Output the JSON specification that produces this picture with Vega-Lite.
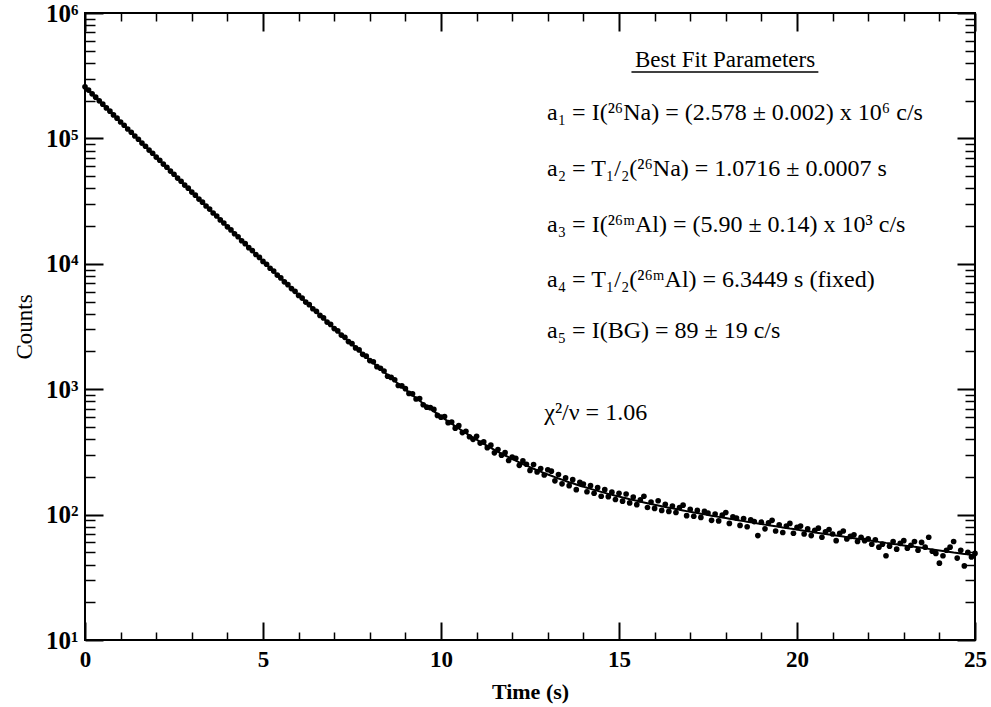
{
  "$schema": "https://vega.github.io/schema/vega-lite/v6.json",
  "width": 890,
  "height": 627,
  "autosize": {"type": "none"},
  "padding": {"left": 85, "top": 13, "right": 16, "bottom": 67},
  "background": "white",
  "config": {
    "view": {"stroke": "black", "strokeWidth": 2},
    "axis": {"grid": false, "domain": false, "tickColor": "black", "labelColor": "black", "titleColor": "black", "labelFont": "Liberation Serif", "titleFont": "Liberation Serif", "labelFlush": false, "labelOverlap": false}
  },
  "datasets": {
    "counts": [
      {"t":0.0,"n":258150,"f":258399},{"t":0.1,"n":242700,"f":242245},{"t":0.2,"n":226640,"f":227099},{"t":0.3,"n":213330,"f":212907},{"t":0.4,"n":199190,"f":199601},
      {"t":0.5,"n":187520,"f":187128},{"t":0.6,"n":175050,"f":175435},{"t":0.7,"n":164880,"f":164475},{"t":0.8,"n":153820,"f":154201},{"t":0.9,"n":144950,"f":144572},
      {"t":1.0,"n":135190,"f":135540},{"t":1.1,"n":127420,"f":127078},{"t":1.2,"n":118810,"f":119144},{"t":1.3,"n":112030,"f":111710},{"t":1.4,"n":104430,"f":104739},
      {"t":1.5,"n":98500,"f":98205},{"t":1.6,"n":91800,"f":92080},{"t":1.7,"n":86620,"f":86339},{"t":1.8,"n":80690,"f":80956},{"t":1.9,"n":76160,"f":75911},
      {"t":2.0,"n":70940,"f":71180},{"t":2.1,"n":66980,"f":66747},{"t":2.2,"n":62370,"f":62590},{"t":2.3,"n":58900,"f":58695},{"t":2.4,"n":54850,"f":55043},
      {"t":2.5,"n":51800,"f":51619},{"t":2.6,"n":48240,"f":48409},{"t":2.7,"n":45560,"f":45400},{"t":2.8,"n":42430,"f":42580},{"t":2.9,"n":40080,"f":39936},
      {"t":3.0,"n":37320,"f":37456},{"t":3.1,"n":35260,"f":35132},{"t":3.2,"n":32830,"f":32954},{"t":3.3,"n":31030,"f":30912},{"t":3.4,"n":28890,"f":28998},
      {"t":3.5,"n":27300,"f":27203},{"t":3.6,"n":25420,"f":25520},{"t":3.7,"n":24040,"f":23943},{"t":3.8,"n":22380,"f":22464},{"t":3.9,"n":21160,"f":21077},
      {"t":4.0,"n":19700,"f":19777},{"t":4.1,"n":18640,"f":18559},{"t":4.2,"n":17350,"f":17416},{"t":4.3,"n":16420,"f":16345},{"t":4.4,"n":15280,"f":15341},
      {"t":4.5,"n":14470,"f":14400},{"t":4.6,"n":13450,"f":13517},{"t":4.7,"n":12750,"f":12689},{"t":4.8,"n":11860,"f":11913},{"t":4.9,"n":11240,"f":11185},
      {"t":5.0,"n":10450,"f":10504},{"t":5.1,"n":9910,"f":9864},{"t":5.2,"n":9220,"f":9264},{"t":5.3,"n":8750,"f":8702},{"t":5.4,"n":8130,"f":8174},
      {"t":5.5,"n":7720,"f":7680},{"t":5.6,"n":7180,"f":7216},{"t":5.7,"n":6820,"f":6781},{"t":5.8,"n":6340,"f":6373},{"t":5.9,"n":6030,"f":5991},
      {"t":6.0,"n":5600,"f":5632},{"t":6.1,"n":5330,"f":5296},{"t":6.2,"n":4950,"f":4980},{"t":6.3,"n":4720,"f":4684},{"t":6.4,"n":4380,"f":4407},
      {"t":6.5,"n":4180,"f":4146},{"t":6.6,"n":3875,"f":3902},{"t":6.7,"n":3700,"f":3673},{"t":6.8,"n":3430,"f":3459},{"t":6.9,"n":3285,"f":3257},
      {"t":7.0,"n":3042,"f":3068},{"t":7.1,"n":2915,"f":2890},{"t":7.2,"n":2700,"f":2724},{"t":7.3,"n":2592,"f":2568},{"t":7.4,"n":2398,"f":2421},
      {"t":7.5,"n":2307,"f":2284},{"t":7.6,"n":2133,"f":2155},{"t":7.7,"n":2056,"f":2033},{"t":7.8,"n":1898,"f":1920},{"t":7.9,"n":1835,"f":1813},
      {"t":8.0,"n":1690,"f":1713},{"t":8.1,"n":1655,"f":1619},{"t":8.2,"n":1512,"f":1531},{"t":8.3,"n":1470,"f":1448},{"t":8.4,"n":1398,"f":1370},
      {"t":8.5,"n":1268,"f":1297},{"t":8.6,"n":1241,"f":1228},{"t":8.7,"n":1190,"f":1164},{"t":8.8,"n":1071,"f":1104},{"t":8.9,"n":1062,"f":1047},
      {"t":9.0,"n":1010,"f":993},{"t":9.1,"n":925,"f":943},{"t":9.2,"n":918,"f":896},{"t":9.3,"n":835,"f":851},{"t":9.4,"n":842,"f":810},
      {"t":9.5,"n":752,"f":770},{"t":9.6,"n":719,"f":734},{"t":9.7,"n":712,"f":699},{"t":9.8,"n":690,"f":666},{"t":9.9,"n":618,"f":636},
      {"t":10.0,"n":598,"f":607},{"t":10.1,"n":605,"f":579},{"t":10.2,"n":541,"f":554},{"t":10.3,"n":548,"f":530},{"t":10.4,"n":489,"f":507},
      {"t":10.5,"n":512,"f":486},{"t":10.6,"n":451,"f":465},{"t":10.7,"n":462,"f":446},{"t":10.8,"n":418,"f":428},{"t":10.9,"n":398,"f":412},
      {"t":11.0,"n":421,"f":396},{"t":11.1,"n":372,"f":381},{"t":11.2,"n":380,"f":366},{"t":11.3,"n":342,"f":353},{"t":11.4,"n":358,"f":340},
      {"t":11.5,"n":311,"f":328},{"t":11.6,"n":330,"f":317},{"t":11.7,"n":298,"f":306},{"t":11.8,"n":312,"f":296},{"t":11.9,"n":270,"f":287},
      {"t":12.0,"n":288,"f":277.5},{"t":12.1,"n":281,"f":269},{"t":12.2,"n":247,"f":261},{"t":12.3,"n":268,"f":253},{"t":12.4,"n":252,"f":246},
      {"t":12.5,"n":225,"f":239},{"t":12.6,"n":251,"f":232},{"t":12.7,"n":219,"f":226},{"t":12.8,"n":233,"f":220},{"t":12.9,"n":207,"f":214},
      {"t":13.0,"n":228,"f":209},{"t":13.1,"n":222,"f":204},{"t":13.2,"n":186,"f":199},{"t":13.3,"n":209,"f":194},{"t":13.4,"n":176,"f":190},
      {"t":13.5,"n":196,"f":185},{"t":13.6,"n":170,"f":181},{"t":13.7,"n":190,"f":178},{"t":13.8,"n":158,"f":174},{"t":13.9,"n":181,"f":170},
      {"t":14.0,"n":175,"f":167},{"t":14.1,"n":152,"f":163.5},{"t":14.2,"n":170,"f":160.4},{"t":14.3,"n":148,"f":157.4},{"t":14.4,"n":164,"f":154.5},
      {"t":14.5,"n":140,"f":151.7},{"t":14.6,"n":158,"f":149},{"t":14.7,"n":139,"f":146.4},{"t":14.8,"n":151,"f":143.9},{"t":14.9,"n":132,"f":141.5},
      {"t":15.0,"n":148,"f":139.2},{"t":15.1,"n":128,"f":137},{"t":15.2,"n":146,"f":134.8},{"t":15.3,"n":124,"f":132.8},{"t":15.4,"n":138,"f":130.8},
      {"t":15.5,"n":120,"f":128.8},{"t":15.6,"n":131,"f":126.9},{"t":15.7,"n":140,"f":125},{"t":15.8,"n":114,"f":123.3},{"t":15.9,"n":126,"f":121.6},
      {"t":16.0,"n":112,"f":119.8},{"t":16.1,"n":129,"f":118.2},{"t":16.2,"n":108,"f":116.6},{"t":16.3,"n":121,"f":115.1},{"t":16.4,"n":106,"f":113.6},
      {"t":16.5,"n":117,"f":112.2},{"t":16.6,"n":104,"f":110.7},{"t":16.7,"n":114,"f":109.3},{"t":16.8,"n":119,"f":107.9},{"t":16.9,"n":98,"f":106.6},
      {"t":17.0,"n":110,"f":105.3},{"t":17.1,"n":97,"f":104},{"t":17.2,"n":108,"f":102.8},{"t":17.3,"n":95,"f":101.6},{"t":17.4,"n":106,"f":100.4},
      {"t":17.5,"n":103,"f":99.2},{"t":17.6,"n":90,"f":98.1},{"t":17.7,"n":101,"f":96.9},{"t":17.8,"n":89,"f":95.9},{"t":17.9,"n":99,"f":94.8},
      {"t":18.0,"n":104,"f":93.8},{"t":18.1,"n":85,"f":92.7},{"t":18.2,"n":96,"f":91.7},{"t":18.3,"n":94,"f":90.7},{"t":18.4,"n":82,"f":89.6},
      {"t":18.5,"n":93,"f":88.7},{"t":18.6,"n":80,"f":87.7},{"t":18.7,"n":91,"f":86.8},{"t":18.8,"n":88,"f":85.9},{"t":18.9,"n":68,"f":85},
      {"t":19.0,"n":87,"f":84.1},{"t":19.1,"n":77,"f":83.2},{"t":19.2,"n":86,"f":82.3},{"t":19.3,"n":90,"f":81.5},{"t":19.4,"n":74,"f":80.7},
      {"t":19.5,"n":83,"f":79.9},{"t":19.6,"n":72,"f":79},{"t":19.7,"n":81,"f":78.3},{"t":19.8,"n":85,"f":77.4},{"t":19.9,"n":71,"f":76.7},
      {"t":20.0,"n":79,"f":75.9},{"t":20.1,"n":81,"f":75.1},{"t":20.2,"n":70,"f":74.3},{"t":20.3,"n":77,"f":73.6},{"t":20.4,"n":68,"f":72.9},
      {"t":20.5,"n":75,"f":72.1},{"t":20.6,"n":78,"f":71.4},{"t":20.7,"n":66,"f":70.8},{"t":20.8,"n":73,"f":70.1},{"t":20.9,"n":76,"f":69.4},
      {"t":21.0,"n":70,"f":68.7},{"t":21.1,"n":62,"f":68},{"t":21.2,"n":71,"f":67.4},{"t":21.3,"n":74,"f":66.8},{"t":21.4,"n":64,"f":66},
      {"t":21.5,"n":67,"f":65.4},{"t":21.6,"n":69,"f":64.8},{"t":21.7,"n":61,"f":64.2},{"t":21.8,"n":66,"f":63.6},{"t":21.9,"n":62,"f":63},
      {"t":22.0,"n":64,"f":62.4},{"t":22.1,"n":58,"f":61.8},{"t":22.2,"n":63,"f":61.2},{"t":22.3,"n":55,"f":60.6},{"t":22.4,"n":58,"f":60.1},
      {"t":22.5,"n":47,"f":59.5},{"t":22.6,"n":56,"f":59},{"t":22.7,"n":61,"f":58.4},{"t":22.8,"n":53,"f":57.9},{"t":22.9,"n":59,"f":57.3},
      {"t":23.0,"n":62,"f":56.8},{"t":23.1,"n":54,"f":56.3},{"t":23.2,"n":57,"f":55.8},{"t":23.3,"n":61,"f":55.3},{"t":23.4,"n":52,"f":54.8},
      {"t":23.5,"n":60,"f":54.3},{"t":23.6,"n":55,"f":53.8},{"t":23.7,"n":66,"f":53.3},{"t":23.8,"n":51,"f":52.8},{"t":23.9,"n":49,"f":52.3},
      {"t":24.0,"n":41,"f":51.8},{"t":24.1,"n":47,"f":51.3},{"t":24.2,"n":52,"f":50.8},{"t":24.3,"n":55,"f":50.4},{"t":24.4,"n":61,"f":49.9},
      {"t":24.5,"n":45,"f":49.5},{"t":24.6,"n":52,"f":49},{"t":24.7,"n":39,"f":48.6},{"t":24.8,"n":50,"f":48.2},{"t":24.9,"n":46,"f":47.7},
      {"t":25.0,"n":49,"f":47.3}
    ],
    "params": [
      {"t":12.98,"c":140200,"label":"a₁ = I(²⁶Na) = (2.578 ± 0.002) x 10⁶ c/s"},
      {"t":12.98,"c":50100,"label":"a₂ = T₁/₂(²⁶Na) = 1.0716 ± 0.0007 s"},
      {"t":12.98,"c":17930,"label":"a₃ = I(²⁶ᵐAl) = (5.90 ± 0.14) x 10³ c/s"},
      {"t":12.98,"c":6530,"label":"a₄ = T₁/₂(²⁶ᵐAl) = 6.3449 s (fixed)"},
      {"t":12.98,"c":2557,"label":"a₅ = I(BG) = 89 ± 19 c/s"},
      {"t":12.9,"c":568,"label":"χ²/ν = 1.06"}
    ],
    "heading": [
      {"t":17.98,"c":371000,"label":"Best Fit Parameters","t2":20.6,"t1":15.35,"cu":338500}
    ]
  },
  "layer": [
    {
      "data": {"name": "counts"},
      "mark": {"type": "circle", "size": 32, "color": "black", "opacity": 1},
      "encoding": {
        "x": {"field": "t", "type": "quantitative", "scale": {"domain": [0, 25], "nice": false, "zero": false},
          "axis": {"orient": "bottom", "values": [0, 5, 10, 15, 20, 25], "tickSize": -18, "tickWidth": 2, "labelPadding": 26, "labelFontSize": 23, "labelFontWeight": "bold", "title": "Time (s)", "titleFontSize": 22, "titleFontWeight": "bold", "titlePadding": 10}},
        "y": {"field": "n", "type": "quantitative", "scale": {"type": "log", "domain": [10, 1000000], "nice": false},
          "axis": {"orient": "left", "values": [10, 100, 1000, 10000, 100000, 1000000], "tickSize": -18, "tickWidth": 2, "labelPadding": 25, "labelFontSize": 25, "labelFontWeight": "bold", "labelExpr": "'10' + ['⁰','¹','²','³','⁴','⁵','⁶'][round(log(datum.value)/LN10)]", "title": "Counts", "titleFontSize": 23, "titleFontWeight": "normal", "titlePadding": 9}}
      }
    },
    {
      "data": {"name": "counts"},
      "mark": {"type": "line", "color": "black", "strokeWidth": 2},
      "encoding": {
        "x": {"field": "t", "type": "quantitative", "scale": {"domain": [0, 25], "nice": false, "zero": false},
          "axis": {"orient": "bottom", "values": [1,2,3,4,6,7,8,9,11,12,13,14,16,17,18,19,21,22,23,24], "tickSize": -8, "tickWidth": 1.5, "labels": false, "title": null}},
        "y": {"field": "f", "type": "quantitative", "scale": {"type": "log", "domain": [10, 1000000], "nice": false},
          "axis": {"orient": "left", "values": [20,30,40,50,60,70,80,90,200,300,400,500,600,700,800,900,2000,3000,4000,5000,6000,7000,8000,9000,20000,30000,40000,50000,60000,70000,80000,90000,200000,300000,400000,500000,600000,700000,800000,900000], "tickSize": -10, "tickWidth": 1.5, "labels": false, "title": null}}
      }
    },
    {
      "data": {"name": "params"},
      "mark": {"type": "text", "align": "left", "baseline": "alphabetic", "font": "Liberation Serif", "fontSize": 24, "color": "black"},
      "encoding": {
        "x": {"field": "t", "type": "quantitative", "scale": {"domain": [0, 25], "nice": false, "zero": false},
          "axis": {"orient": "top", "values": [0, 5, 10, 15, 20, 25], "tickSize": -18, "tickWidth": 2, "labels": false, "title": null}},
        "y": {"field": "c", "type": "quantitative", "scale": {"type": "log", "domain": [10, 1000000], "nice": false},
          "axis": {"orient": "right", "values": [10, 100, 1000, 10000, 100000, 1000000], "tickSize": -18, "tickWidth": 2, "labels": false, "title": null}},
        "text": {"field": "label", "type": "nominal"}
      }
    },
    {
      "data": {"name": "heading"},
      "mark": {"type": "text", "align": "center", "baseline": "alphabetic", "font": "Liberation Serif", "fontSize": 23, "color": "black"},
      "encoding": {
        "x": {"field": "t", "type": "quantitative", "scale": {"domain": [0, 25], "nice": false, "zero": false},
          "axis": {"orient": "top", "values": [1,2,3,4,6,7,8,9,11,12,13,14,16,17,18,19,21,22,23,24], "tickSize": -8, "tickWidth": 1.5, "labels": false, "title": null}},
        "y": {"field": "c", "type": "quantitative", "scale": {"type": "log", "domain": [10, 1000000], "nice": false},
          "axis": {"orient": "right", "values": [20,30,40,50,60,70,80,90,200,300,400,500,600,700,800,900,2000,3000,4000,5000,6000,7000,8000,9000,20000,30000,40000,50000,60000,70000,80000,90000,200000,300000,400000,500000,600000,700000,800000,900000], "tickSize": -10, "tickWidth": 1.5, "labels": false, "title": null}},
        "text": {"field": "label", "type": "nominal"}
      }
    },
    {
      "data": {"name": "heading"},
      "mark": {"type": "rule", "color": "black", "strokeWidth": 1.5},
      "encoding": {
        "x": {"field": "t1", "type": "quantitative", "scale": {"domain": [0, 25], "nice": false, "zero": false}, "axis": null},
        "x2": {"field": "t2"},
        "y": {"field": "cu", "type": "quantitative", "scale": {"type": "log", "domain": [10, 1000000], "nice": false}, "axis": null}
      }
    }
  ],
  "resolve": {"axis": {"x": "independent", "y": "independent"}}
}
